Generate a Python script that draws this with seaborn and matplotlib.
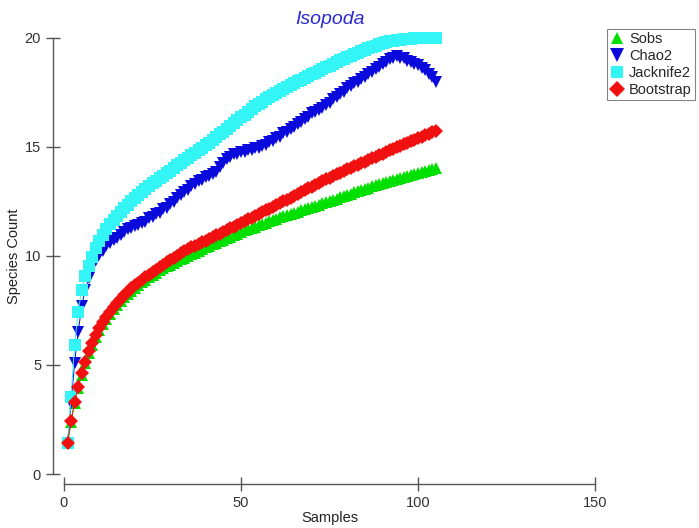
import numpy as np
import pandas as pd
import matplotlib
matplotlib.use('Agg')
import matplotlib.pyplot as plt
from matplotlib.lines import Line2D
import seaborn as sns

# species accumulation curves (samples 1..105)
samples = list(range(1, 106))

sobs = [1.40, 2.40, 3.25, 3.95, 4.56, 5.08, 5.53, 5.93, 6.28, 6.59,
        6.87, 7.12, 7.35, 7.56, 7.75, 7.93, 8.10, 8.26, 8.41, 8.55,
        8.68, 8.80, 8.92, 9.03, 9.14, 9.24, 9.34, 9.43, 9.52, 9.60,
        9.68, 9.76, 9.84, 9.92, 10.00, 10.08, 10.16, 10.24, 10.32, 10.40,
        10.47, 10.54, 10.61, 10.68, 10.75, 10.82, 10.89, 10.96, 11.03, 11.10,
        11.17, 11.23, 11.29, 11.35, 11.41, 11.47, 11.53, 11.59, 11.65, 11.71,
        11.77, 11.82, 11.87, 11.93, 11.98, 12.03, 12.09, 12.14, 12.19, 12.25,
        12.30, 12.35, 12.41, 12.46, 12.52, 12.58, 12.63, 12.69, 12.75, 12.80,
        12.86, 12.92, 12.97, 13.03, 13.08, 13.14, 13.19, 13.25, 13.30, 13.36,
        13.40, 13.45, 13.49, 13.54, 13.58, 13.62, 13.67, 13.71, 13.76, 13.80,
        13.84, 13.89, 13.93, 13.98, 14.03]

chao2 = [1.40, 3.26, 5.10, 6.50, 7.70, 8.45, 9.00, 9.50, 9.80, 10.05,
         10.25, 10.45, 10.58, 10.72, 10.83, 10.97, 11.08, 11.22, 11.28, 11.36,
         11.40, 11.52, 11.58, 11.74, 11.80, 11.94, 11.98, 12.14, 12.22, 12.40,
         12.48, 12.67, 12.78, 12.95, 13.03, 13.20, 13.28, 13.44, 13.50, 13.64,
         13.68, 13.77, 13.84, 14.07, 14.26, 14.47, 14.56, 14.67, 14.68, 14.77,
         14.78, 14.87, 14.86, 14.94, 14.94, 15.04, 15.08, 15.22, 15.28, 15.42,
         15.48, 15.62, 15.68, 15.82, 15.90, 16.06, 16.14, 16.30, 16.38, 16.54,
         16.60, 16.72, 16.78, 16.94, 17.03, 17.20, 17.28, 17.44, 17.53, 17.72,
         17.80, 17.94, 18.00, 18.14, 18.20, 18.35, 18.43, 18.59, 18.66, 18.82,
         18.90, 19.04, 19.08, 19.16, 19.10, 19.07, 18.96, 18.92, 18.80, 18.77,
         18.63, 18.54, 18.36, 18.22, 18.00]

jack2 = [1.40, 3.55, 5.93, 7.45, 8.45, 9.10, 9.55, 9.95, 10.35, 10.70,
         10.98, 11.22, 11.45, 11.66, 11.85, 12.03, 12.20, 12.36, 12.50, 12.64,
         12.78, 12.92, 13.06, 13.20, 13.33, 13.45, 13.57, 13.68, 13.80, 13.92,
         14.04, 14.16, 14.28, 14.40, 14.51, 14.62, 14.73, 14.84, 14.96, 15.08,
         15.20, 15.32, 15.45, 15.58, 15.71, 15.84, 15.97, 16.10, 16.23, 16.36,
         16.49, 16.62, 16.74, 16.86, 16.97, 17.08, 17.18, 17.28, 17.38, 17.48,
         17.58, 17.68, 17.77, 17.85, 17.93, 18.01, 18.09, 18.17, 18.25, 18.33,
         18.41, 18.49, 18.57, 18.65, 18.73, 18.81, 18.89, 18.97, 19.05, 19.12,
         19.19, 19.26, 19.33, 19.40, 19.47, 19.53, 19.59, 19.65, 19.71, 19.76,
         19.81, 19.85, 19.88, 19.91, 19.93, 19.95, 19.96, 19.97, 19.98, 19.99,
         20.00, 20.00, 20.00, 20.00, 20.00]

boot = [1.40, 2.43, 3.30, 4.00, 4.63, 5.16, 5.62, 6.02, 6.37, 6.68,
        6.96, 7.21, 7.44, 7.65, 7.85, 8.03, 8.20, 8.36, 8.51, 8.65,
        8.78, 8.91, 9.03, 9.15, 9.27, 9.38, 9.49, 9.60, 9.71, 9.82,
        9.92, 10.02, 10.12, 10.21, 10.30, 10.39, 10.47, 10.55, 10.63, 10.71,
        10.79, 10.87, 10.95, 11.03, 11.11, 11.19, 11.27, 11.35, 11.43, 11.51,
        11.59, 11.68, 11.76, 11.84, 11.92, 12.01, 12.09, 12.17, 12.25, 12.34,
        12.42, 12.50, 12.59, 12.67, 12.76, 12.84, 12.93, 13.01, 13.10, 13.18,
        13.27, 13.35, 13.43, 13.52, 13.60, 13.67, 13.75, 13.82, 13.89, 13.97,
        14.04, 14.11, 14.19, 14.26, 14.33, 14.40, 14.48, 14.55, 14.62, 14.70,
        14.77, 14.84, 14.91, 14.98, 15.05, 15.12, 15.19, 15.26, 15.33, 15.40,
        15.47, 15.54, 15.61, 15.68, 15.75]

names = ['Sobs', 'Chao2', 'Jacknife2', 'Bootstrap']
colors = ['#00e000', '#0a0adc', '#33f5f5', '#f01010']
markers = ['^', 'v', 's', 'D']
msizes = [8, 8.5, 8, 7]

sns.set_style('white')
plt.rcParams['font.family'] = ['Liberation Sans', 'DejaVu Sans']

fig = plt.figure(figsize=(6.99, 5.28), dpi=100)
# axes box in pixels: x 0->64, 150->595 ; y 0->474, 20->38
ax = fig.add_axes([64/699, (528-474)/528, (595-64)/699, (474-38)/528])

series = [sobs, chao2, jack2, boot]
for vals, name, c, m, ms in zip(series, names, colors, markers, msizes):
    sns.lineplot(x=samples, y=vals, color=c, marker=m, markersize=ms,
                 markeredgewidth=0, linewidth=0.7, ax=ax, clip_on=False,
                 legend=False)

ax.set_xlim(0, 150)
ax.set_ylim(0, 20)
ax.set_xticks([0, 50, 100, 150])
ax.set_yticks([0, 5, 10, 15, 20])

axis_col = '#555555'
for side in ['top', 'right']:
    ax.spines[side].set_visible(False)
ax.spines['left'].set_position(('outward', 8))
ax.spines['bottom'].set_position(('outward', 7))
ax.spines['left'].set_bounds(0, 20)
ax.spines['bottom'].set_bounds(0, 150)
for side in ['left', 'bottom']:
    ax.spines[side].set_color(axis_col)
    ax.spines[side].set_linewidth(1)
ax.tick_params(direction='inout', length=10, width=1, color=axis_col,
               labelsize=10.5, labelcolor='#333333', left=True, bottom=True)

ax.set_xlabel('Samples', fontsize=10.5, color='#222222', labelpad=1)
ax.set_ylabel('Species Count', fontsize=10.5, color='#222222', labelpad=3)
ax.set_title('Isopoda', fontsize=14, style='italic', color='#2a2ad0', pad=10)

handles = [Line2D([], [], linestyle='none', marker=m, color=c, markersize=ms + 1,
                  markeredgewidth=0)
           for m, c, ms in zip(markers, colors, msizes)]
leg = fig.legend(handles, names, loc='upper left',
                 bbox_to_anchor=(607/699, 1 - 29/528), fontsize=10.5,
                 frameon=True, fancybox=False, borderpad=0.2, handlelength=1.0,
                 handletextpad=0.3, labelspacing=0.2, borderaxespad=0)
leg.get_frame().set_edgecolor('#666666')
leg.get_frame().set_linewidth(0.8)

fig.savefig('out.png', dpi=100)
